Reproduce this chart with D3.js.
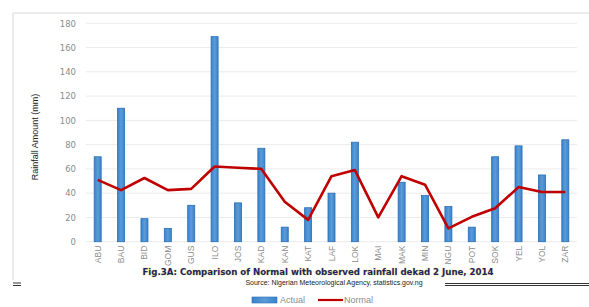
<!DOCTYPE html>
<html>
<head>
<meta charset="utf-8">
<script src="https://cdn.jsdelivr.net/npm/d3@7"></script>
<style>
  body { margin: 0; background: #fff; }
  svg { display: block; }
</style>
</head>
<body>
<div id="chart"></div>
<script>
// chart data
const stations = ['ABU', 'BAU', 'BID', 'GOM', 'GUS', 'ILO', 'JOS', 'KAD', 'KAN', 'KAT', 'LAF',
  'LOK', 'MAI', 'MAK', 'MIN', 'NGU', 'POT', 'SOK', 'YEL', 'YOL', 'ZAR'];
const actual = [70, 110, 19, 11, 30, 169, 32, 77, 12, 28, 40, 82, 0, 49, 38, 29, 12, 70, 79, 55, 84];
const normal = [51, 42.5, 52.5, 42.5, 43.5, 62, 61, 60, 33, 18, 54, 59, 20, 54, 47, 11, 20.5, 27.5, 45, 41, 41];
const yTicks = [0, 20, 40, 60, 80, 100, 120, 140, 160, 180];
const seriesNames = ['Actual', 'Normal'];

const width = 589, height = 307;
const margin = { top: 23, right: 12, bottom: 65, left: 86 };

const svg = d3.select('#chart').append('svg')
  .attr('width', width)
  .attr('height', height);

// outer chart border
svg.append('path')
  .attr('d', `M13,${height - 27} V13 H${width}`)
  .attr('fill', 'none')
  .attr('stroke', '#d9d9d9')
  .attr('stroke-width', 1);

const x = d3.scaleBand()
  .domain(stations)
  .range([margin.left, width - margin.right])
  .paddingInner(0.7)
  .paddingOuter(0.35);

const y = d3.scaleLinear()
  .domain([0, 180])
  .range([241.7, margin.top + 0.3]);

// gridlines
svg.append('g')
  .selectAll('line')
  .data(yTicks)
  .join('line')
  .attr('x1', margin.left)
  .attr('x2', width - margin.right)
  .attr('y1', d => y(d))
  .attr('y2', d => y(d))
  .attr('stroke', '#ebebeb')
  .attr('stroke-width', 1);

// Y axis
svg.append('g')
  .attr('transform', `translate(${margin.left - 6},0)`)
  .call(d3.axisLeft(y).tickValues(yTicks).tickSize(0).tickPadding(4))
  .call(g => g.select('.domain').remove())
  .call(g => g.selectAll('.tick text')
    .attr('fill', '#8c8c8c')
    .attr('font-family', 'DejaVu Sans')
    .attr('font-size', 8.5));

// Y axis label
svg.append('text')
  .attr('transform', 'rotate(-90)')
  .attr('x', -137)
  .attr('y', 38)
  .attr('text-anchor', 'middle')
  .attr('font-family', 'Liberation Sans Narrow, Liberation Sans')
  .attr('font-size', 9)
  .attr('fill', '#222')
  .text('Rainfall Amount (mm)');

// gradient for bars
const grad = svg.append('defs').append('linearGradient')
  .attr('id', 'barGrad')
  .attr('x1', '0%').attr('x2', '100%');
grad.append('stop').attr('offset', '0%').attr('stop-color', '#3a83cc');
grad.append('stop').attr('offset', '50%').attr('stop-color', '#5b9bd8');
grad.append('stop').attr('offset', '100%').attr('stop-color', '#3a83cc');

// bars
svg.append('g')
  .selectAll('rect')
  .data(actual)
  .join('rect')
  .attr('x', (d, i) => x(stations[i]))
  .attr('y', d => y(d))
  .attr('width', x.bandwidth())
  .attr('height', d => y(0) - y(d))
  .attr('fill', 'url(#barGrad)')
  .attr('stroke', d => d > 0 ? '#2a6fb5' : 'none')
  .attr('stroke-width', 0.8);

// normal line
const line = d3.line()
  .x((d, i) => x(stations[i]) + x.bandwidth() / 2)
  .y(d => y(d));

svg.append('path')
  .datum(normal)
  .attr('fill', 'none')
  .attr('stroke', '#c00000')
  .attr('stroke-width', 2.6)
  .attr('stroke-linejoin', 'round')
  .attr('d', line);

// X axis labels
svg.append('g')
  .attr('transform', `translate(0,${y(0)})`)
  .call(d3.axisBottom(x).tickSize(0).tickPadding(0))
  .call(g => g.select('.domain').remove())
  .call(g => g.selectAll('.tick text')
    .attr('transform', 'rotate(-90)')
    .attr('text-anchor', 'end')
    .attr('dx', -4)
    .attr('dy', 3)
    .attr('x', 0)
    .attr('y', 0)
    .attr('fill', '#8c8c8c')
    .attr('font-family', 'Liberation Sans Narrow, Liberation Sans')
    .attr('font-size', 8.5));

// title
svg.append('text')
  .attr('x', 318)
  .attr('y', 275)
  .attr('text-anchor', 'middle')
  .attr('font-family', 'DejaVu Sans')
  .attr('font-weight', 'bold')
  .attr('font-size', 8.6)
  .attr('fill', '#1c2466')
  .attr('stroke', '#e8d84a')
  .attr('stroke-width', 0.5)
  .attr('paint-order', 'stroke')
  .text('Fig.3A: Comparison of Normal with observed rainfall dekad 2 June, 2014');

// source line
svg.append('text')
  .attr('x', 334)
  .attr('y', 285)
  .attr('text-anchor', 'middle')
  .attr('font-family', 'Liberation Sans Narrow, Liberation Sans')
  .attr('font-size', 7)
  .attr('fill', '#222')
  .text('Source: Nigerian Meteorological Agency, statistics.gov.ng');

// double rule right of source
svg.append('line')
  .attr('x1', 445).attr('x2', width)
  .attr('y1', 283.5).attr('y2', 283.5)
  .attr('stroke', '#333').attr('stroke-width', 1);
svg.append('line')
  .attr('x1', 445).attr('x2', width)
  .attr('y1', 285.5).attr('y2', 285.5)
  .attr('stroke', '#333').attr('stroke-width', 1);

// small marks at left
[283, 285.5].forEach(yy => {
  svg.append('line')
    .attr('x1', 13).attr('x2', 21)
    .attr('y1', yy).attr('y2', yy)
    .attr('stroke', '#333').attr('stroke-width', 1);
});

// legend
const legend = svg.append('g').attr('transform', 'translate(252,300)');
legend.append('rect')
  .attr('x', 0).attr('y', -3)
  .attr('width', 25).attr('height', 6)
  .attr('fill', 'url(#barGrad)')
  .attr('stroke', '#2a6fb5')
  .attr('stroke-width', 0.6);
legend.append('text')
  .attr('x', 28).attr('y', 3)
  .attr('font-family', 'Liberation Sans')
  .attr('font-size', 9)
  .attr('fill', '#8c8c8c')
  .text(seriesNames[0]);
legend.append('line')
  .attr('x1', 66).attr('x2', 91)
  .attr('y1', 0).attr('y2', 0)
  .attr('stroke', '#c00000')
  .attr('stroke-width', 2.2);
legend.append('text')
  .attr('x', 92).attr('y', 3)
  .attr('font-family', 'Liberation Sans')
  .attr('font-size', 9)
  .attr('fill', '#8c8c8c')
  .text(seriesNames[1]);
</script>
</body>
</html>
